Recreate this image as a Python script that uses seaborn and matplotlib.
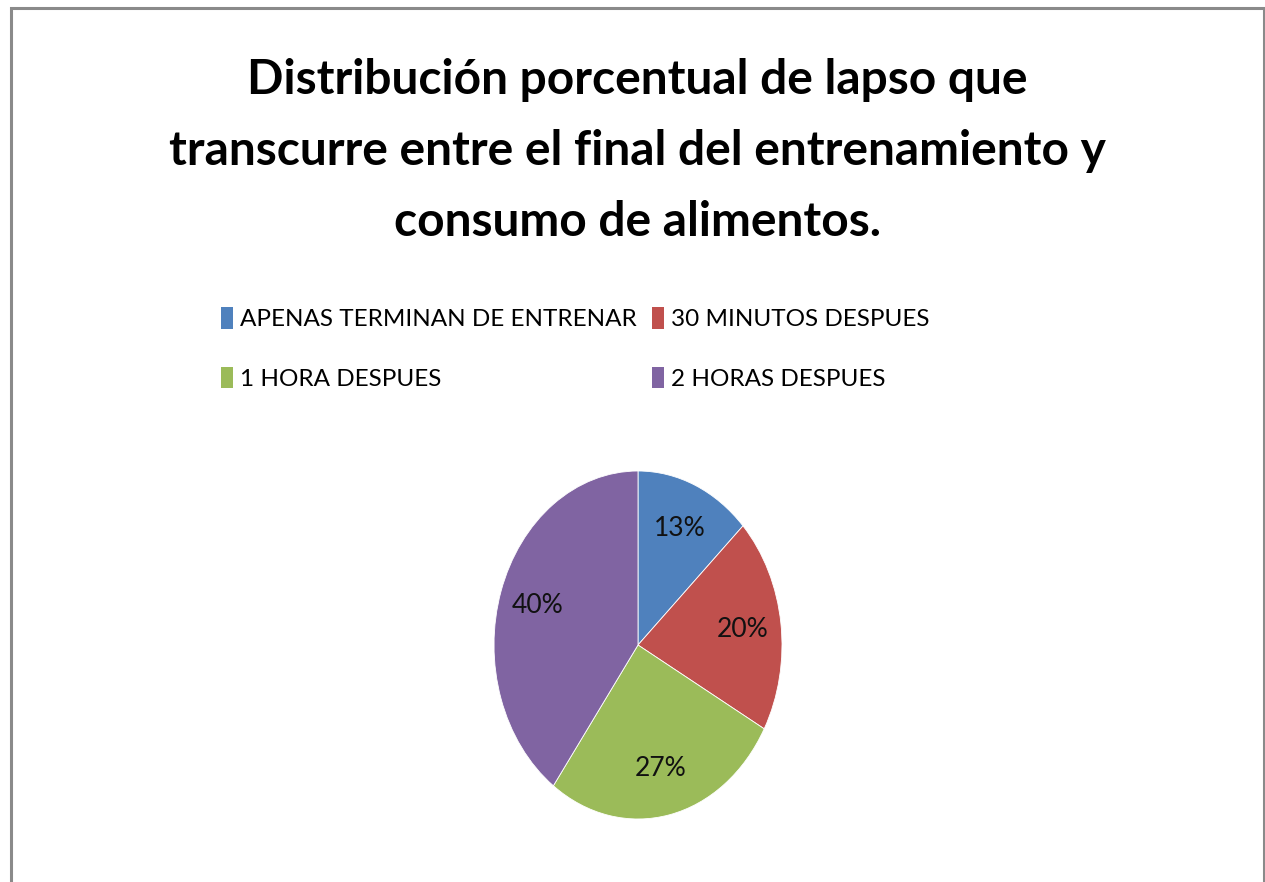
import matplotlib
matplotlib.use("Agg")
import matplotlib.pyplot as plt
import matplotlib.patches as mpatches
import seaborn as sns

sns.set_theme(style="white")
plt.rcParams["font.family"] = ["Lato", "DejaVu Sans"]
plt.rcParams["text.color"] = "black"

# data
categories = ["APENAS TERMINAN DE ENTRENAR", "30 MINUTOS DESPUES",
              "1 HORA DESPUES", "2 HORAS DESPUES"]
percentages = [13, 20, 27, 40]
colors = sns.color_palette(["#4F81BD", "#C0504D", "#9BBB59", "#8064A2"])

title_lines = ["Distribución porcentual de lapso que",
               "transcurre entre el final del entrenamiento y",
               "consumo de alimentos."]

W, H = 1265, 882
fig = plt.figure(figsize=(W / 100, H / 100), dpi=100)
fig.patch.set_facecolor("white")
renderer = fig.canvas.get_renderer()


def fit_size(text, target_px, weight="normal", base=30):
    t = fig.text(0, 0, text, fontsize=base, fontweight=weight)
    w = t.get_window_extent(renderer).width
    t.remove()
    return base * target_px / w


# grey frame round the chart area (open at the bottom edge)
frame = mpatches.Rectangle((10.5 / W, -0.05), 1253 / W, 1 + 0.05 - 7.5 / H,
                           transform=fig.transFigure, fill=False,
                           edgecolor="#8a8a8a", linewidth=2.2)
fig.patches.append(frame)

title_size = fit_size(title_lines[1], 937, weight="bold")
for line, y in zip(title_lines, [80, 151, 222]):
    fig.text(637 / W, 1 - y / H, line, ha="center", va="center",
             fontsize=title_size, fontweight="bold")

# pie, stretched vertically like the original
ax = fig.add_axes([458 / W, 19.5 / H, 360 / W, 435 / H])
pct_size = fit_size("13%", 52)
wedges, texts, autotexts = ax.pie(
    percentages, colors=colors, startangle=90, counterclock=False,
    autopct=lambda p: f"{p:.0f}%", pctdistance=0.73,
    wedgeprops={"edgecolor": "white", "linewidth": 0.6},
    textprops={"fontsize": pct_size, "color": "#111111"})
ax.set_aspect("auto")
ax.set_xlim(-1.25, 1.25)
ax.set_ylim(-1.25, 1.25)

# legend: two columns, filled row by row
leg_size = fit_size(categories[0], 396)
handles = [mpatches.Patch(facecolor=c, edgecolor="none") for c in colors]
order = [0, 2, 1, 3]
fig.legend([handles[i] for i in order], [categories[i] for i in order],
           ncol=2, loc="upper left",
           bbox_to_anchor=(199 / W, 1 - 285 / H), frameon=False,
           fontsize=leg_size, handlelength=0.5, handleheight=1.0,
           handletextpad=0.3, columnspacing=0.6, labelspacing=1.5)

fig.savefig("out.png", dpi=100)
